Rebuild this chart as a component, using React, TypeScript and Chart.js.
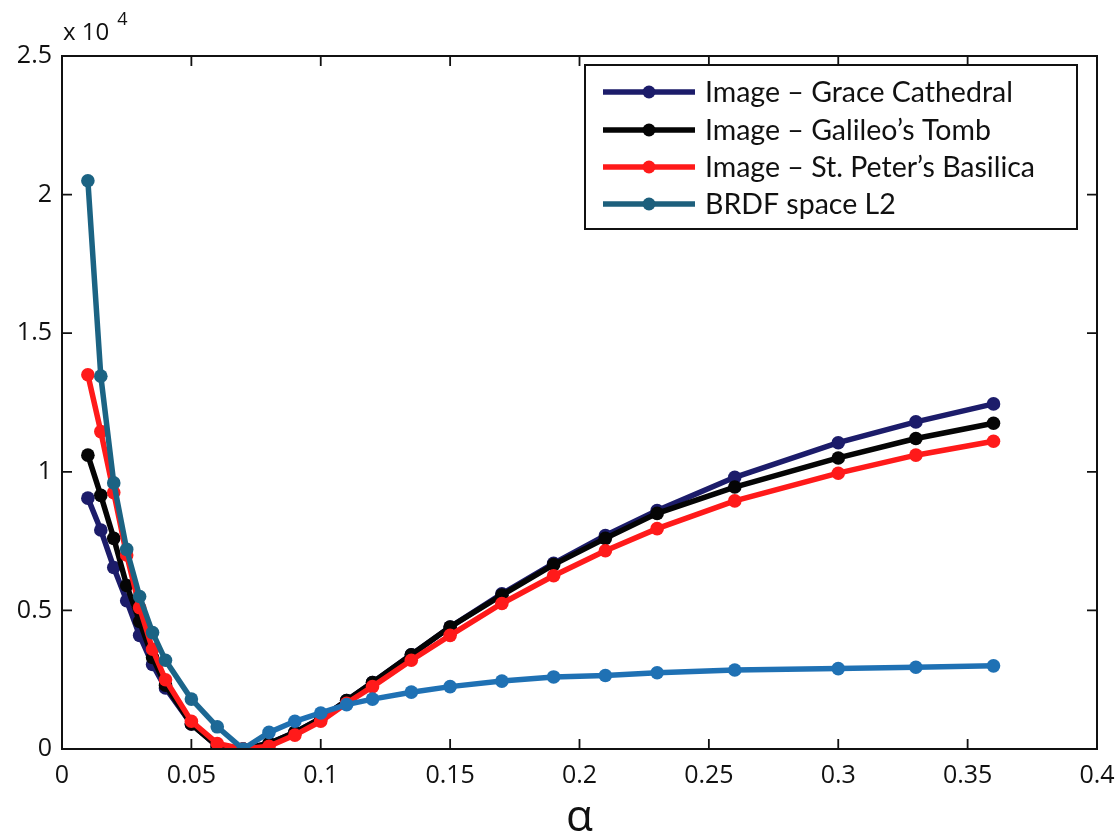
import React, { useEffect, useRef } from "react";
import { Chart, registerables } from "chart.js";

Chart.register(...registerables);

const alpha = [0.01, 0.015, 0.02, 0.025, 0.03, 0.035, 0.04, 0.05, 0.06, 0.07, 0.08, 0.09, 0.1, 0.11, 0.12, 0.135, 0.15, 0.17, 0.19, 0.21, 0.23, 0.26, 0.3, 0.33, 0.36];

const graceCathedral = [9050, 7900, 6550, 5350, 4100, 3050, 2200, 900, 100, 0, 200, 600, 1100, 1750, 2400, 3400, 4400, 5600, 6700, 7700, 8600, 9800, 11050, 11800, 12450];
const galileosTomb = [10600, 9150, 7600, 5900, 4600, 3300, 2300, 900, 100, 0, 200, 600, 1100, 1750, 2400, 3400, 4400, 5550, 6650, 7600, 8500, 9450, 10500, 11200, 11750];
const stPetersBasilica = [13500, 11450, 9250, 7000, 5100, 3600, 2500, 1000, 200, 0, 100, 500, 1000, 1650, 2250, 3200, 4100, 5250, 6250, 7150, 7950, 8950, 9950, 10600, 11100];
const brdfSpaceL2 = [20500, 13450, 9600, 7200, 5500, 4200, 3200, 1800, 800, 0, 600, 1000, 1300, 1600, 1800, 2050, 2250, 2450, 2600, 2650, 2750, 2850, 2900, 2950, 3000];

const seriesLabels = [
  "Image \u2013 Grace Cathedral",
  "Image \u2013 Galileo\u2019s Tomb",
  "Image \u2013 St. Peter\u2019s Basilica",
  "BRDF space L2",
];
const xTicks = [0, 0.05, 0.1, 0.15, 0.2, 0.25, 0.3, 0.35, 0.4];
const yTicks = [0, 5000, 10000, 15000, 20000, 25000];

const TICK_FONT = "'Open Sans', Lato, sans-serif";
const LEGEND_FONT = "Lato, 'Open Sans', sans-serif";

const brdfColor = (ctx: any) => {
  const chart = ctx.chart;
  const area = chart.chartArea;
  if (!area) return "#1e6c9c";
  const xs = chart.scales.x;
  const g = chart.ctx.createLinearGradient(xs.getPixelForValue(0.04), 0, xs.getPixelForValue(0.09), 0);
  g.addColorStop(0, "#1b6383");
  g.addColorStop(1, "#1f71b4");
  return g;
};

const framePlugin = {
  id: "frame",
  afterDatasetsDraw(chart: any) {
    const { ctx, chartArea: a, scales } = chart;
    ctx.save();
    ctx.strokeStyle = "#111";
    ctx.lineWidth = 2;
    ctx.strokeRect(a.left, a.top, a.right - a.left, a.bottom - a.top);
    const tl = 10;
    ctx.lineWidth = 1.8;
    ctx.beginPath();
    xTicks.forEach((v) => {
      const px = scales.x.getPixelForValue(v);
      ctx.moveTo(px, a.bottom);
      ctx.lineTo(px, a.bottom - tl);
      ctx.moveTo(px, a.top);
      ctx.lineTo(px, a.top + tl);
    });
    yTicks.forEach((v) => {
      const py = scales.y.getPixelForValue(v);
      ctx.moveTo(a.left, py);
      ctx.lineTo(a.left + tl, py);
      ctx.moveTo(a.right, py);
      ctx.lineTo(a.right - tl, py);
    });
    ctx.stroke();

    // exponent label
    ctx.fillStyle = "#111";
    ctx.textBaseline = "alphabetic";
    ctx.textAlign = "left";
    ctx.font = `24px ${TICK_FONT}`;
    ctx.fillText("x 10", a.left + 1, a.top - 16);
    const w = ctx.measureText("x 10").width;
    ctx.font = `18px ${TICK_FONT}`;
    ctx.fillText("4", a.left + w + 9, a.top - 31);

    // legend
    const box = { l: 585, t: 65, r: 1077, b: 229 };
    ctx.fillStyle = "#fff";
    ctx.fillRect(box.l, box.t, box.r - box.l, box.b - box.t);
    ctx.strokeStyle = "#111";
    ctx.lineWidth = 2;
    ctx.strokeRect(box.l, box.t, box.r - box.l, box.b - box.t);
    const rows = [92, 130, 167, 204];
    chart.data.datasets.forEach((ds: any, i: number) => {
      const y = rows[i];
      const col = i === 3 ? "#1d5f7c" : ds.pointBackgroundColor;
      ctx.strokeStyle = col;
      ctx.lineWidth = 5.5;
      ctx.beginPath();
      ctx.moveTo(603, y);
      ctx.lineTo(695, y);
      ctx.stroke();
      ctx.fillStyle = col;
      ctx.beginPath();
      ctx.arc(649, y, 6.5, 0, Math.PI * 2);
      ctx.fill();
      ctx.fillStyle = "#111";
      ctx.font = `28.5px ${LEGEND_FONT}`;
      ctx.textBaseline = "middle";
      ctx.fillText(ds.label, 705, y + 1);
    });
    ctx.restore();
  },
};

export default function App() {
  const ref = useRef<HTMLCanvasElement | null>(null);
  useEffect(() => {
    document.body.style.margin = "0";
    const canvas = ref.current;
    if (!canvas) return;
    const colors = ["#1c1c6a", "#050505", "#ff1a1a", "#1e6c9c"];
    const series = [graceCathedral, galileosTomb, stPetersBasilica, brdfSpaceL2];
    const datasets = series.map((s, i) => ({
      label: seriesLabels[i],
      data: alpha.map((x, j) => ({ x, y: s[j] })),
      borderColor: i === 3 ? brdfColor : colors[i],
      pointBackgroundColor: i === 3 ? brdfColor : colors[i],
      pointBorderColor: i === 3 ? brdfColor : colors[i],
      borderWidth: 5.5,
      pointRadius: 6.8,
      pointBorderWidth: 0,
      tension: 0,
      order: 4 - i,
    }));
    const chart = new Chart(canvas, {
      type: "line",
      data: { datasets },
      options: {
        animation: false,
        responsive: false,
        maintainAspectRatio: false,
        layout: { padding: { top: 56, right: 20, left: 0, bottom: 0 } },
        plugins: { legend: { display: false }, tooltip: { enabled: false } },
        scales: {
          x: {
            type: "linear",
            min: 0,
            max: 0.4,
            afterFit: (s: any) => { s.height = 87; s.paddingRight = 0; s.paddingLeft = 0; },
            afterBuildTicks: (s: any) => { s.ticks = xTicks.map((v) => ({ value: v })); },
            grid: { display: false, drawTicks: false },
            border: { display: false },
            ticks: {
              padding: 12,
              color: "#111",
              font: { family: TICK_FONT, size: 25 },
              callback: (v: any) => String(Number(v)),
            },
            title: {
              display: true,
              text: "\u03b1",
              color: "#111",
              font: { family: TICK_FONT, size: 44, lineHeight: 0.8 },
              padding: { top: 0, bottom: 0 },
            },
          },
          y: {
            type: "linear",
            min: 0,
            max: 25000,
            afterFit: (s: any) => { s.width = 62; s.paddingTop = 0; s.paddingBottom = 0; },
            afterBuildTicks: (s: any) => { s.ticks = yTicks.map((v) => ({ value: v })); },
            grid: { display: false, drawTicks: false },
            border: { display: false },
            ticks: {
              padding: 10,
              color: "#111",
              font: { family: TICK_FONT, size: 25 },
              callback: (v: any) => String(Number(v) / 10000),
            },
          },
        },
      },
      plugins: [framePlugin],
    });
    return () => chart.destroy();
  }, []);
  return (
    <div style={{ position: "absolute", left: 0, top: 0, width: 1117, height: 836, background: "#fff" }}>
      <canvas ref={ref} width={1117} height={836} style={{ width: 1117, height: 836, display: "block" }} />
    </div>
  );
}
